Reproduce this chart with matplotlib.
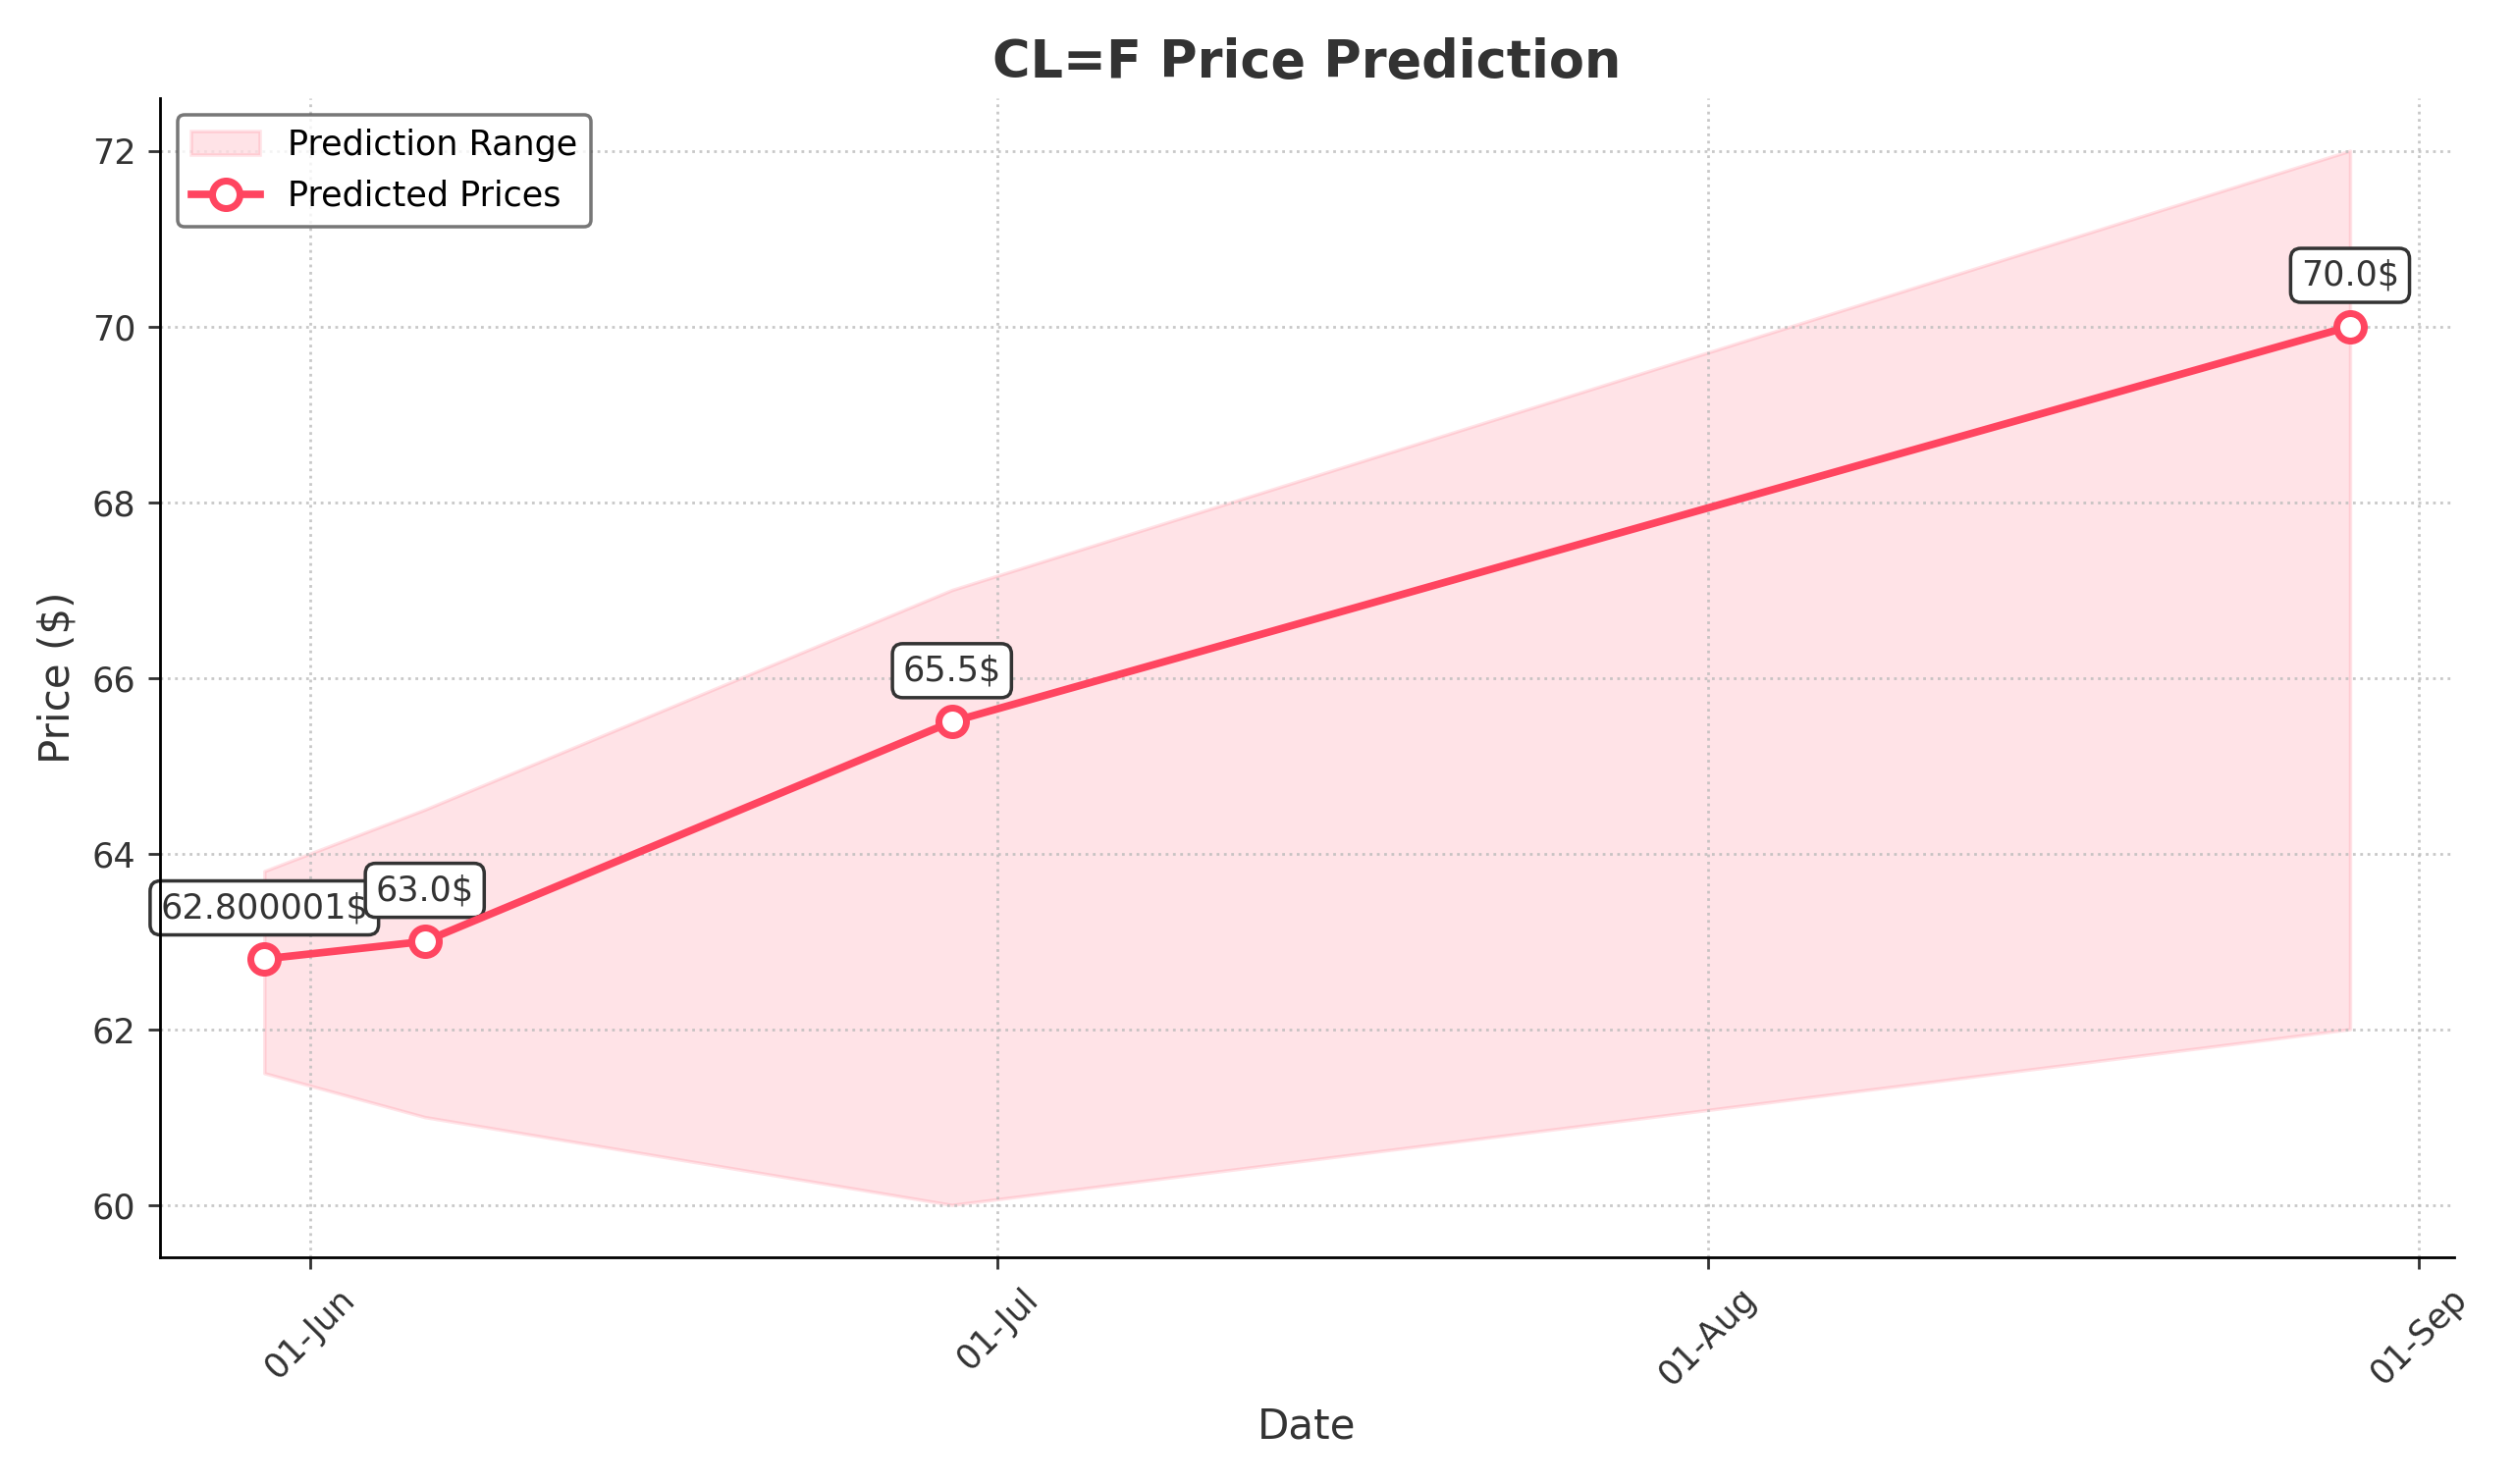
import numpy as np
import pandas as pd
import matplotlib.pyplot as plt
import matplotlib.dates as mdates

dates = pd.to_datetime(["2025-05-30", "2025-06-06", "2025-06-29", "2025-08-29"])
prices = [62.800001, 63.0, 65.5, 70.0]
labels = ["62.800001$", "63.0$", "65.5$", "70.0$"]
lower = [61.5, 61.0, 60.0, 62.0]
upper = [63.8, 64.5, 67.0, 72.0]

color = "#ff4560"

fig, ax = plt.subplots(figsize=(10.17, 6.0), dpi=252)
ax.fill_between(dates, lower, upper, color=color, alpha=0.15, label="Prediction Range")
ax.plot(dates, prices, color=color, lw=2.2, marker="o", markersize=8,
        markerfacecolor="white", markeredgewidth=2, label="Predicted Prices", zorder=3)
for d, p, t in zip(dates, prices, labels):
    ax.annotate(t, (d, p), xytext=(0, 12), textcoords="offset points", ha="center",
                fontsize=10, color="#333333", zorder=2,
                bbox=dict(boxstyle="round,pad=0.3", fc="white", ec="#333333", lw=1))

ax.set_title("CL=F Price Prediction", fontsize=15, fontweight="bold", color="#333333")
ax.set_xlabel("Date", fontsize=12, color="#333333")
ax.set_ylabel("Price ($)", fontsize=12, color="#333333")
ax.xaxis.set_major_locator(mdates.MonthLocator())
ax.xaxis.set_major_formatter(mdates.DateFormatter("%d-%b"))
plt.setp(ax.get_xticklabels(), rotation=45)
ax.tick_params(colors="#333333")
ax.grid(True, linestyle=":", color="#bbbbbb", alpha=0.8)
ax.spines["top"].set_visible(False)
ax.spines["right"].set_visible(False)
ax.legend(loc="upper left", edgecolor="#555555")
fig.tight_layout()
fig.savefig("out.png")
